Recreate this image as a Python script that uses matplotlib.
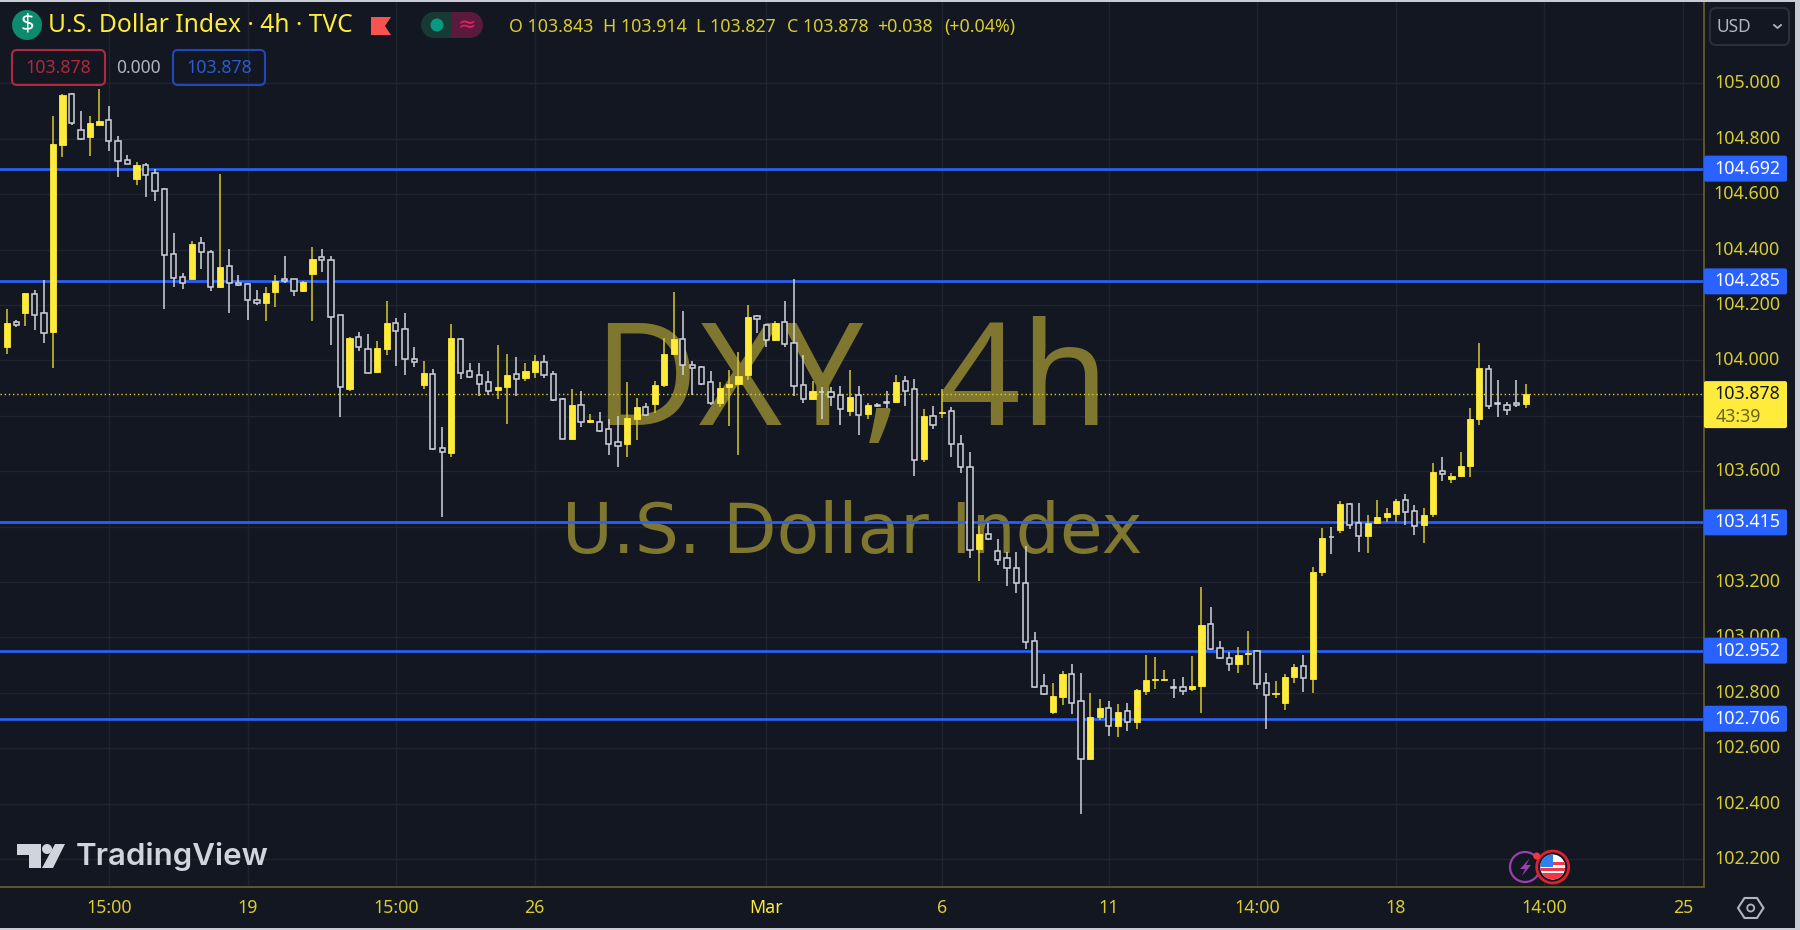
import numpy as np
import matplotlib
matplotlib.use('Agg')
import matplotlib.pyplot as plt
from matplotlib.patches import Circle, FancyBboxPatch, Polygon, Rectangle, Wedge

opens = [104.049, 104.140, 104.172, 104.239, 104.170, 104.102, 104.779, 104.963, 104.832, 104.805,
         104.851, 104.868, 104.793, 104.723, 104.656, 104.706, 104.677, 104.620, 104.384, 104.302,
         104.295, 104.422, 104.392, 104.264, 104.341, 104.280, 104.276, 104.218, 104.208, 104.247,
         104.292, 104.292, 104.250, 104.312, 104.372, 104.362, 104.162, 103.895, 104.083, 104.040,
         103.958, 104.042, 104.136, 104.114, 104.006, 103.910, 103.952, 103.685, 103.667, 104.078,
         103.960, 103.947, 103.921, 103.893, 103.902, 103.952, 103.936, 103.958, 103.995, 103.952,
         103.860, 103.717, 103.839, 103.778, 103.777, 103.751, 103.704, 103.698, 103.788, 103.833,
         103.842, 103.910, 104.023, 104.078, 103.984, 103.977, 103.922, 103.845, 103.902, 103.915,
         103.946, 104.161, 104.126, 104.073, 104.140, 104.064, 103.912, 103.860, 103.887, 103.887,
         103.874, 103.818, 103.874, 103.806, 103.840, 103.848, 103.850, 103.925, 103.895, 103.644,
         103.799, 103.809, 103.817, 103.699, 103.616, 103.318, 103.372, 103.310, 103.285, 103.250,
         103.197, 102.988, 102.825, 102.732, 102.786, 102.866, 102.769, 102.562, 102.713, 102.744,
         102.681, 102.735, 102.695, 102.807, 102.847, 102.847, 102.819, 102.819, 102.812, 102.825,
         103.049, 102.961, 102.927, 102.904, 102.939, 102.949, 102.836, 102.794, 102.764, 102.855,
         102.896, 102.851, 103.235, 103.363, 103.387, 103.481, 103.412, 103.366, 103.414, 103.436,
         103.444, 103.495, 103.455, 103.405, 103.444, 103.599, 103.572, 103.584, 103.618, 103.788,
         103.970, 103.845, 103.840, 103.845, 103.843]
highs = [104.184, 104.146, 104.244, 104.254, 104.290, 104.882, 104.961, 104.964, 104.899, 104.882,
         104.978, 104.918, 104.810, 104.742, 104.716, 104.711, 104.690, 104.622, 104.458, 104.314,
         104.432, 104.446, 104.398, 104.673, 104.403, 104.309, 104.280, 104.254, 104.264, 104.309,
         104.377, 104.295, 104.288, 104.410, 104.403, 104.377, 104.165, 104.083, 104.102, 104.095,
         104.071, 104.215, 104.153, 104.172, 104.049, 103.996, 103.967, 103.760, 104.131, 104.081,
         103.989, 103.989, 103.963, 104.054, 104.023, 104.011, 103.989, 104.019, 104.019, 103.963,
         103.864, 103.896, 103.888, 103.805, 103.813, 103.787, 103.800, 103.923, 103.865, 103.847,
         103.927, 104.079, 104.245, 104.179, 103.996, 103.980, 103.963, 103.922, 103.965, 104.030,
         104.201, 104.162, 104.131, 104.143, 104.215, 104.292, 104.018, 103.927, 103.905, 103.905,
         103.907, 103.965, 103.907, 103.847, 103.845, 103.890, 103.948, 103.943, 103.931, 103.823,
         103.835, 103.895, 103.830, 103.729, 103.669, 103.402, 103.412, 103.356, 103.308, 103.308,
         103.330, 103.020, 102.867, 102.836, 102.880, 102.902, 102.872, 102.798, 102.776, 102.771,
         102.758, 102.762, 102.812, 102.937, 102.928, 102.882, 102.851, 102.855, 102.933, 103.180,
         103.111, 102.985, 102.946, 102.964, 103.024, 102.954, 102.872, 102.841, 102.867, 102.902,
         102.937, 103.255, 103.395, 103.399, 103.491, 103.486, 103.484, 103.443, 103.496, 103.468,
         103.499, 103.517, 103.479, 103.466, 103.628, 103.652, 103.592, 103.670, 103.827, 104.061,
         103.983, 103.929, 103.851, 103.929, 103.914]
lows = [104.023, 104.119, 104.124, 104.109, 104.061, 103.971, 104.733, 104.848, 104.795, 104.738,
        104.848, 104.755, 104.661, 104.708, 104.633, 104.591, 104.576, 104.184, 104.264, 104.259,
        104.292, 104.329, 104.249, 104.261, 104.172, 104.268, 104.146, 104.201, 104.141, 104.194,
        104.280, 104.232, 104.248, 104.141, 104.319, 104.054, 103.797, 103.890, 104.032, 103.953,
        103.953, 104.018, 103.980, 103.946, 103.977, 103.898, 103.676, 103.436, 103.652, 103.931,
        103.936, 103.871, 103.876, 103.862, 103.770, 103.871, 103.927, 103.936, 103.936, 103.854,
        103.715, 103.715, 103.760, 103.772, 103.742, 103.657, 103.614, 103.650, 103.712, 103.800,
        103.809, 103.902, 104.018, 103.946, 103.876, 103.910, 103.840, 103.830, 103.763, 103.658,
        103.929, 104.100, 104.047, 104.071, 104.049, 103.871, 103.845, 103.858, 103.789, 103.835,
        103.765, 103.800, 103.732, 103.788, 103.830, 103.828, 103.847, 103.835, 103.582, 103.634,
        103.752, 103.792, 103.652, 103.592, 103.286, 103.204, 103.351, 103.260, 103.186, 103.160,
        102.959, 102.817, 102.793, 102.723, 102.754, 102.723, 102.362, 102.557, 102.701, 102.645,
        102.641, 102.663, 102.668, 102.793, 102.812, 102.844, 102.781, 102.793, 102.807, 102.728,
        102.954, 102.923, 102.880, 102.872, 102.899, 102.815, 102.668, 102.781, 102.738, 102.836,
        102.802, 102.798, 103.221, 103.300, 103.378, 103.390, 103.308, 103.303, 103.408, 103.418,
        103.416, 103.404, 103.368, 103.339, 103.436, 103.565, 103.556, 103.579, 103.580, 103.767,
        103.823, 103.794, 103.803, 103.833, 103.827]
closes = [104.136, 104.127, 104.242, 104.164, 104.100, 104.781, 104.959, 104.856, 104.799, 104.856,
          104.865, 104.793, 104.721, 104.710, 104.704, 104.670, 104.612, 104.381, 104.296, 104.278,
          104.420, 104.392, 104.264, 104.336, 104.278, 104.273, 104.218, 104.208, 104.244, 104.288,
          104.286, 104.251, 104.284, 104.367, 104.362, 104.155, 103.902, 104.079, 104.049, 103.955,
          104.044, 104.136, 104.107, 104.003, 103.994, 103.953, 103.679, 103.668, 104.079, 103.955,
          103.941, 103.916, 103.889, 103.905, 103.948, 103.934, 103.960, 103.996, 103.946, 103.857,
          103.716, 103.840, 103.776, 103.785, 103.745, 103.698, 103.692, 103.791, 103.830, 103.803,
          103.910, 104.022, 104.076, 103.982, 103.972, 103.915, 103.845, 103.900, 103.913, 103.943,
          104.158, 104.148, 104.073, 104.136, 104.058, 103.908, 103.860, 103.888, 103.884, 103.869,
          103.824, 103.869, 103.801, 103.837, 103.836, 103.845, 103.922, 103.889, 103.640, 103.799,
          103.767, 103.813, 103.698, 103.615, 103.315, 103.373, 103.354, 103.279, 103.250, 103.196,
          102.983, 102.822, 102.795, 102.788, 102.866, 102.764, 102.561, 102.713, 102.745, 102.681,
          102.732, 102.695, 102.810, 102.845, 102.851, 102.851, 102.817, 102.807, 102.823, 103.046,
          102.957, 102.925, 102.904, 102.936, 102.945, 102.830, 102.791, 102.798, 102.858, 102.893,
          102.852, 103.237, 103.360, 103.361, 103.481, 103.405, 103.367, 103.412, 103.434, 103.448,
          103.491, 103.454, 103.402, 103.442, 103.596, 103.590, 103.582, 103.617, 103.787, 103.971,
          103.835, 103.841, 103.821, 103.840, 103.878]

price_ticks = [102.2, 102.4, 102.6, 102.8, 103.0, 103.2, 103.4, 103.6, 103.8, 104.0, 104.2, 104.4, 104.6, 104.8, 105.0]
level_lines = [104.692, 104.285, 103.415, 102.952, 102.706]
last_price = 103.878
time_pos = [11, 26, 42, 57, 82, 101, 119, 135, 150, 166, 181]
time_labels = ['15:00', '19', '15:00', '26', 'Mar', '6', '11', '14:00', '18', '14:00', '25']
header_stats = ['O 103.843', 'H 103.914', 'L 103.827', 'C 103.878', '+0.038', '(+0.04%)']

BG = '#121722'
GRID = '#20242f'
EDGE = '#5f5827'
YEL = '#ffeb3b'
WICK_Y = '#d8c72f'
WHITE = '#d1d4dc'
BLUE = '#2962ff'
TXT = '#d8cc30'

plt.rcParams['font.family'] = ['Noto Sans', 'DejaVu Sans']

fig = plt.figure(figsize=(18, 9.3), dpi=100, facecolor=BG)
ax = fig.add_axes([0, 43 / 930, 1704 / 1800, 887 / 930], facecolor=BG)
ax.set_xlim(-0.745, 183.27)
ax.set_ylim(102.0986, 105.3008)
ax.set_xticks(time_pos)
ax.set_yticks(price_ticks)
ax.tick_params(length=0, labelbottom=False, labelleft=False)
ax.grid(True, color=GRID, linewidth=1.0, zorder=0)
ax.set_axisbelow(True)
for s in ['top', 'left']:
    ax.spines[s].set_visible(False)
for s in ['right', 'bottom']:
    ax.spines[s].set_color(EDGE)
    ax.spines[s].set_linewidth(1.4)

# watermark
ax.text(0.5, 0.5209, 'DXY, 4h', transform=ax.transAxes, ha='center', va='baseline',
        fontsize=103, color='#7f7630', family='Noto Sans', zorder=1)
ax.text(0.5, 0.3766, 'U.S. Dollar Index', transform=ax.transAxes, ha='center', va='baseline',
        fontsize=50, color='#7f7630', family='DejaVu Sans', zorder=1)

ax.axhline(last_price, color=TXT, linewidth=1.0, linestyle=(0, (1, 2)), zorder=2)
for lv in level_lines:
    ax.axhline(lv, color=BLUE, linewidth=1.9, zorder=2)

o = np.array(opens)
h = np.array(highs)
l = np.array(lows)
c = np.array(closes)
x = np.arange(len(o))
up = c >= o

ax.vlines(x[up], l[up], h[up], color=WICK_Y, linewidth=1.1, zorder=3)
ax.vlines(x[~up], l[~up], h[~up], color=WHITE, linewidth=1.1, zorder=3)
ax.bar(x[up], (c - o)[up], bottom=o[up], width=0.66, color=YEL, edgecolor=YEL, linewidth=0.6, zorder=4)
ax.bar(x[~up], (o - c)[~up], bottom=c[~up], width=0.56, facecolor=BG, edgecolor=WHITE, linewidth=1.1, zorder=4)

# everything outside the plot, in pixels of the 1800x930 picture
ov = fig.add_axes([0, 0, 1, 1], facecolor='none', zorder=10)
ov.set_xlim(0, 1800)
ov.set_ylim(930, 0)
ov.axis('off')


def price_y(p):
    return 930 - ax.transData.transform((0, p))[1]


def time_x(i):
    return ax.transData.transform((i, 0))[0]


def box(x0, y0, x1, y1, fc, ec='none', lw=0, r=3, z=2):
    ov.add_patch(FancyBboxPatch((x0 + r, y0 + r), x1 - x0 - 2 * r, y1 - y0 - 2 * r,
                                boxstyle='round,pad=%d,rounding_size=%d' % (r, r),
                                fc=fc, ec=ec, lw=lw, zorder=z))


# outer frame
ov.add_patch(Rectangle((1795, 0), 5, 930, fc='#c9ccd4', ec='none', zorder=1))
ov.add_patch(Rectangle((0, 0), 1800, 2, fc='#c9ccd4', ec='none', zorder=1))
ov.add_patch(Rectangle((0, 928), 1800, 2, fc='#c9ccd4', ec='none', zorder=1))

# price axis
for p in price_ticks:
    ov.text(1780, price_y(p), '%.3f' % p, ha='right', va='center', fontsize=12.8, color=TXT, zorder=1.5)
for lv in level_lines:
    yy = price_y(lv)
    box(1704, yy - 13, 1787, yy + 13, BLUE, r=2)
    ov.text(1780, yy, '%.3f' % lv, ha='right', va='center', fontsize=12.8, color='white', zorder=3)
yy = price_y(last_price)
box(1704, yy - 13, 1787, yy + 34, YEL, r=2)
ov.text(1780, yy, '%.3f' % last_price, ha='right', va='center', fontsize=12.8, color='#131722', zorder=3)
ov.text(1716, yy + 23, '43:39', ha='left', va='center', fontsize=12.8, color='#6b6420', zorder=3)

box(1710, 8, 1789, 45, 'none', ec='#2b2f3a', lw=1.5, r=6)
ov.text(1716, 27, 'USD', ha='left', va='center', fontsize=12.5, color='#b2b5be')
ov.plot([1774, 1777.5, 1781], [25, 28, 25], color='#b2b5be', lw=1.3)

# time axis
for pos, lab in zip(time_pos, time_labels):
    ov.text(time_x(pos), 908, lab, ha='center', va='center', fontsize=12.8, color=TXT if lab != 'Mar' else YEL,
            fontweight='bold' if lab == 'Mar' else 'normal')

# settings hexagon
ov.add_patch(Polygon([(1738, 908), (1744.5, 898), (1757, 898), (1763.5, 908), (1757, 918), (1744.5, 918)],
                     closed=True, fc='none', ec='#b2b5be', lw=1.5))
ov.add_patch(Circle((1750.7, 908), 3.5, fc='none', ec='#b2b5be', lw=1.3))

# header
ov.add_patch(Circle((27, 25), 15, fc='#0e8a6e', ec='none'))
ov.text(27, 25, '$', ha='center', va='center', fontsize=17, color='white', fontweight='bold')
ov.text(48, 25, 'U.S. Dollar Index · 4h · TVC', ha='left', va='center', fontsize=17.7, color=YEL)
ov.add_patch(Polygon([(371, 17), (391, 17), (385, 26), (391, 35), (371, 35)], closed=True, fc='#f9534f', ec='none'))
ov.add_patch(Wedge((434, 25), 13, 90, 270, fc='#173a35', ec='none'))
ov.add_patch(Rectangle((434, 12), 18, 26, fc='#173a35', ec='none'))
ov.add_patch(Rectangle((452, 12), 18, 26, fc='#5a1a3c', ec='none'))
ov.add_patch(Wedge((470, 25), 13, -90, 90, fc='#5a1a3c', ec='none'))
ov.add_patch(Circle((437, 25), 6.5, fc='#089981', ec='none'))
ov.text(467, 25, '≈', ha='center', va='center', fontsize=16, color='#e91e63', family='DejaVu Sans')
for sx, lab in zip([509, 603, 696, 787, 877, 944], header_stats):
    ov.text(sx, 27, lab, ha='left', va='center', fontsize=12.8, color=TXT)

box(12, 50, 105, 85, 'none', ec='#b2283c', lw=1.5, r=5)
ov.text(58, 68, '103.878', ha='center', va='center', fontsize=12.8, color='#b2283c')
ov.text(138, 68, '0.000', ha='center', va='center', fontsize=12.5, color='#b2b5be')
box(173, 50, 265, 85, 'none', ec='#2048b8', lw=1.5, r=5)
ov.text(219, 68, '103.878', ha='center', va='center', fontsize=12.8, color='#2a5bd0')

# logo
LOGO = '#d1d4dc'
ov.add_patch(Polygon([(17, 844), (41, 844), (41, 868), (29, 868), (29, 855), (17, 855)], closed=True, fc=LOGO, ec='none'))
ov.add_patch(Circle((47, 849), 5, fc=LOGO, ec='none'))
ov.add_patch(Polygon([(55, 844), (65, 844), (53, 868), (42, 868)], closed=True, fc=LOGO, ec='none'))
ov.text(76, 856, 'TradingView', ha='left', va='center', fontsize=22.5, color=LOGO, family='Inter', fontweight='semibold')

# event icons
ov.add_patch(Circle((1525, 867), 15, fc=BG, ec='#9c3fb0', lw=1.6))
ov.add_patch(Polygon([(1530, 858), (1520, 869), (1525, 869), (1522, 876), (1531, 865), (1526, 865)], closed=True,
                     fc='#9c3fb0', ec='none'))
ov.add_patch(Circle((1552.7, 867), 16, fc=BG, ec='#e0202f', lw=2))
ov.add_patch(Circle((1552.7, 867), 12.5, fc='white', ec='none'))
flag_clip = Circle((1552.7, 867), 12.5, transform=ov.transData)
for yy, hh in [(862, 3), (867.5, 3), (873, 6)]:
    r = Rectangle((1540, yy), 26, hh, fc='#f23645', ec='none')
    ov.add_patch(r)
    r.set_clip_path(flag_clip)
r = Rectangle((1540, 854), 13, 13, fc='#2f80ed', ec='none')
ov.add_patch(r)
r.set_clip_path(flag_clip)
ov.add_patch(Circle((1536.7, 856), 3.5, fc='#f23645', ec='none'))

fig.savefig('out.png', dpi=100, facecolor=BG)
print('--> out.png')
